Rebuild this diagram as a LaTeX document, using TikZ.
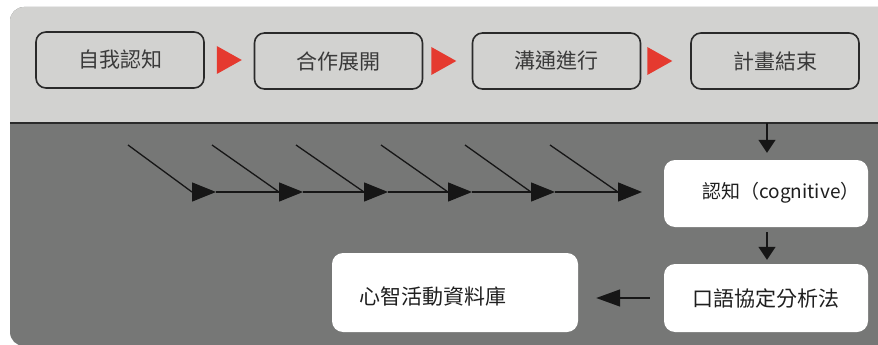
\documentclass[tikz,border=0pt]{standalone}
\usepackage{fontspec}
\setmainfont{Noto Sans CJK TC}
\usetikzlibrary{arrows.meta,calc}
\definecolor{lightpanel}{RGB}{210,210,208}
\definecolor{darkpanel}{RGB}{118,119,118}
\definecolor{edgegray}{RGB}{42,42,42}
\definecolor{textgray}{RGB}{58,58,58}
\definecolor{redtri}{RGB}{229,58,47}
\definecolor{arrowblack}{RGB}{22,22,22}
\tikzset{
  stagebox/.style={draw=edgegray, line width=1.6pt, rounded corners=10pt,
    minimum width=168pt, minimum height=56pt, inner sep=0pt,
    font=\fontsize{21}{21}\selectfont, text=textgray},
  whitebox/.style={fill=white, draw=none, rounded corners=11pt, inner sep=0pt,
    font=\fontsize{21}{21}\selectfont, text=black!88},
  fishline/.style={draw=arrowblack, line width=1.3pt},
  fisharr/.style={draw=arrowblack, line width=1.3pt, -{Triangle[length=24pt,width=19pt]}},
  downarr/.style={draw=arrowblack, line width=1.5pt, -{Triangle[length=13pt,width=17pt]}},
  leftarr/.style={draw=arrowblack, line width=1.5pt, -{Triangle[length=24pt,width=17pt]}},
  redmark/.style={fill=redtri, draw=none},
}
\begin{document}
\begin{tikzpicture}[x=1pt,y=-1pt]
\useasboundingbox (0,0) rectangle (878,345);
% panel
\fill[darkpanel, rounded corners=14pt] (10,7) rectangle (900,346);
\begin{scope}
  \clip (0,0) rectangle (900,123);
  \fill[lightpanel, rounded corners=14pt] (10,7) rectangle (900,346);
\end{scope}
\draw[edgegray, line width=2.4pt] (10,123) -- (880,123);

% top stage boxes
\node[stagebox] (s1) at (120,60) {自我認知};
\node[stagebox] (s2) at (338.5,61) {合作展開};
\node[stagebox] (s3) at (556.5,61) {溝通進行};
\node[stagebox] (s4) at (775,61) {計畫結束};

% red markers
\fill[redmark] ($(s1.east)+(12,-14)$) -- ++(25,14) -- ++(-25,14) -- cycle;
\fill[redmark] ($(s2.east)+(8,-14)$) -- ++(25,14) -- ++(-25,14) -- cycle;
\fill[redmark] ($(s3.east)+(6,-14)$) -- ++(25,14) -- ++(-25,14) -- cycle;

% lower boxes
\node[whitebox, minimum width=204pt, minimum height=67pt] (cog) at (766,193.5) {};
\node[font=\fontsize{19}{19}\selectfont, text=black!88, inner sep=0pt] (cogtext) at (781,193) {認知（cognitive）};
\node[whitebox, minimum width=204pt, minimum height=68pt] (oral) at (766,298) {\raisebox{-2pt}{口語協定分析法}};
\node[whitebox, minimum width=246pt, minimum height=79pt] (db) at (455,292.5) {};
\node[font=\fontsize{21}{21}\selectfont, text=black!88, inner sep=0pt, anchor=west] (dbtext) at (359,297) {心智活動資料庫};

% connectors lower
\coordinate (div) at (767,123);
\draw[downarr, shorten >=7pt] (div) -- (div |- cog.north);
\draw[downarr, shorten <=5pt, shorten >=4pt] (cog.south -| div) -- (oral.north -| div);
\draw[leftarr, shorten <=14pt, shorten >=18pt] (oral.west) -- (oral.west -| db.east);

% fishbone
\foreach \i/\dx/\bx in {1/128/192, 2/212/279, 3/296/364, 4/381/448, 5/465/531, 6/550/618}{
  \coordinate (d\i) at (\dx,145);
  \coordinate (b\i) at (\bx,192);
  \coordinate (t\i) at (\bx+24,192);
}
\foreach \i in {1,...,6}{ \draw[fishline] (d\i) -- (b\i); }
\draw[fisharr] (b1) -- (t1);
\foreach \p/\q in {1/2,2/3,3/4,4/5,5/6}{ \draw[fisharr] (t\p) -- (t\q); }
\end{tikzpicture}
\end{document}
